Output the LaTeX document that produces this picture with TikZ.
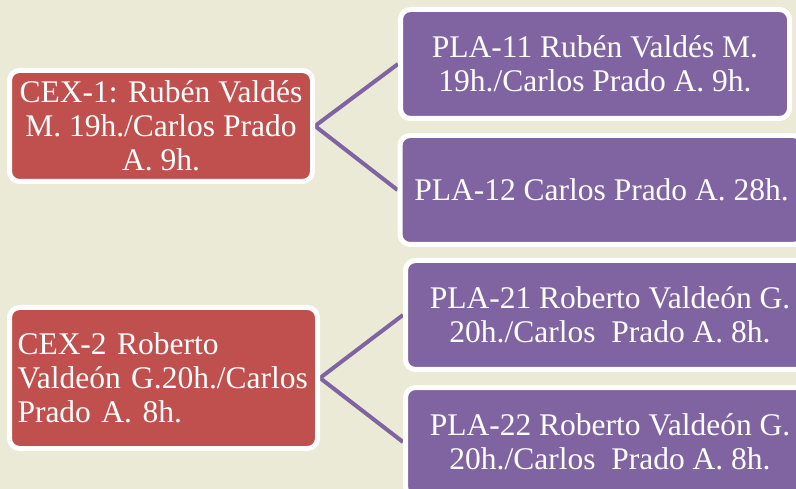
\documentclass[tikz,border=0pt]{standalone}
\usepackage{fontspec}
\setmainfont{Liberation Serif}
\pgfdeclarelayer{bg}
\pgfdeclarelayer{edges}
\pgfsetlayers{bg,edges,main}
\definecolor{bgcol}{HTML}{EBEAD6}
\definecolor{redbox}{HTML}{C0504D}
\definecolor{purplebox}{HTML}{8064A2}
\tikzset{
  box/.style={draw=white, line width=5pt, rounded corners=10pt, text=white,
    inner sep=0pt, font=\fontsize{31.5}{34}\selectfont, align=center},
  cexbox/.style={box, fill=redbox},
  plabox/.style={box, fill=purplebox},
  link/.style={draw=purplebox, line width=4pt}
}
\begin{document}
\begin{tikzpicture}[x=1pt,y=-1pt]
\useasboundingbox (0,0) rectangle (796,489);
\clip (0,0) rectangle (796,489);
\begin{pgfonlayer}{bg}
\fill[bgcol] (0,0) rectangle (796,489);
\end{pgfonlayer}
\node[cexbox, minimum width=303pt, minimum height=111pt] (cex1) at (161,126)
  {CEX-1: Rubén Valdés\\M. 19h./Carlos Prado\\A. 9h.};
\node[plabox, minimum width=389pt, minimum height=109pt] (pla11) at (595,64)
  {PLA-11 Rubén Valdés M.\\19h./Carlos Prado A. 9h.};
\node[plabox, minimum width=403pt, minimum height=109pt] (pla12) at (601.5,190)
  {PLA-12 Carlos Prado A. 28h.};
\node[cexbox, minimum width=308pt, minimum height=141pt, align=left, text width=292pt] (cex2) at (163.5,378)
  {CEX-2 Roberto\\Valdeón G.20h./Carlos\\Prado A. 8h.};
\node[plabox, minimum width=409pt, minimum height=109pt] (pla21) at (610,315)
  {PLA-21 Roberto Valdeón G.\\20h./Carlos~ Prado A. 8h.};
\node[plabox, minimum width=409pt, minimum height=109pt] (pla22) at (610,442)
  {PLA-22 Roberto Valdeón G.\\20h./Carlos~ Prado A. 8h.};
\begin{pgfonlayer}{edges}
\draw[link] (cex1.east) -- (pla11.west);
\draw[link] (cex1.east) -- (pla12.west);
\draw[link] (cex2.east) -- (pla21.west);
\draw[link] (cex2.east) -- (pla22.west);
\end{pgfonlayer}
\end{tikzpicture}
\end{document}
